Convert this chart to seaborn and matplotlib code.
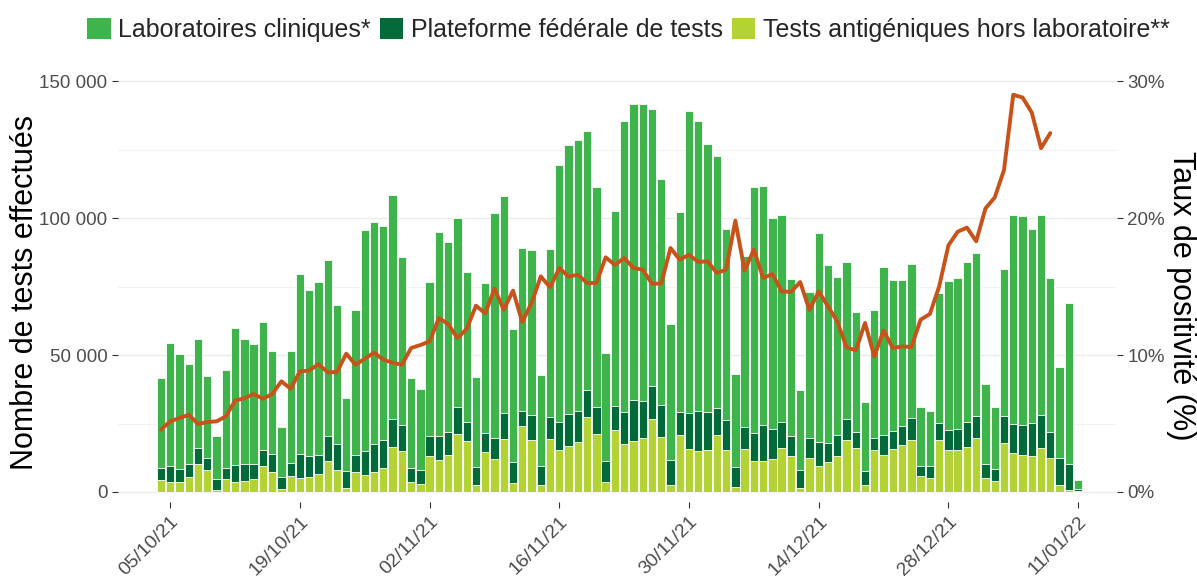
import numpy as np
import pandas as pd
import matplotlib
matplotlib.use("Agg")
import matplotlib.pyplot as plt
from matplotlib.patches import Patch
from matplotlib.ticker import FuncFormatter, MultipleLocator
import seaborn as sns

# ---------------- data ----------------
start_date = "2021-10-04"

# Tests in thousands per day
labs_k = [32.7, 45.1, 42.0, 36.4, 39.8, 30.2, 15.7, 35.7, 49.7, 45.4,
          43.8, 46.7, 37.6, 18.1, 40.9, 65.7, 60.6, 63.3, 64.2, 50.8,
          26.6, 52.9, 80.7, 81.1, 78.3, 81.8, 61.4, 32.9, 29.3, 56.5,
          74.6, 69.4, 69.2, 54.8, 33.0, 54.9, 82.2, 78.9, 48.7, 59.5,
          60.4, 33.0, 61.3, 93.6, 98.2, 98.9, 94.6, 80.2, 39.4, 71.3,
          106.3, 108.3, 108.6, 101.1, 82.6, 49.6, 72.9, 110.5, 105.8, 97.9,
          91.9, 69.5, 33.8, 62.2, 89.9, 87.5, 76.9, 75.6, 57.2, 29.3,
          53.3, 76.3, 65.0, 57.9, 57.2, 43.8, 25.2, 46.6, 61.2, 55.0,
          53.2, 56.1, 21.5, 20.3, 47.5, 54.5, 55.2, 58.2, 59.6, 29.2,
          22.4, 53.7, 76.4, 76.6, 71.0, 73.0, 56.1, 33.4, 58.7, 3.3]

platform_k = [4.5, 5.9, 4.6, 4.8, 5.9, 4.4, 3.7, 4.2, 6.2, 6.4,
              5.4, 6.0, 6.3, 4.4, 5.0, 8.8, 7.7, 7.1, 9.2, 9.2,
              6.3, 6.4, 8.8, 10.2, 10.1, 10.3, 9.5, 4.8, 5.3, 7.3,
              8.7, 8.2, 9.6, 6.9, 6.4, 6.9, 7.7, 9.5, 7.6, 5.7,
              8.9, 6.9, 8.2, 10.2, 11.5, 11.3, 9.8, 9.7, 7.4, 8.7,
              11.7, 14.8, 13.3, 12.1, 11.5, 9.2, 8.3, 13.1, 14.8, 13.9,
              10.0, 11.1, 7.3, 8.2, 10.2, 13.0, 10.8, 9.3, 7.4, 6.4,
              7.3, 8.7, 7.0, 7.6, 7.6, 5.9, 4.9, 4.5, 7.3, 6.6,
              6.8, 8.0, 3.9, 4.3, 6.1, 7.3, 7.5, 9.4, 8.0, 5.0,
              4.5, 9.6, 10.7, 10.9, 12.0, 12.1, 9.6, 9.6, 9.6, 0.9]

antigen_k = [4.3, 3.5, 3.8, 5.5, 10.3, 7.9, 0.9, 4.7, 3.8, 3.9,
             4.7, 9.5, 7.4, 1.2, 5.7, 5.1, 5.4, 6.4, 11.4, 8.2,
             1.5, 7.2, 6.2, 7.2, 8.8, 16.3, 15.0, 3.8, 2.9, 13.0,
             11.6, 13.6, 21.3, 18.5, 2.6, 14.6, 12.0, 19.5, 3.3, 24.0,
             19.1, 2.7, 19.2, 15.5, 16.8, 18.4, 27.5, 21.3, 3.8, 22.6,
             17.5, 18.7, 19.8, 26.5, 20.1, 2.6, 20.9, 15.6, 14.8, 15.2,
             20.8, 15.3, 1.8, 15.6, 11.2, 11.3, 12.2, 16.1, 13.0, 1.5,
             12.3, 9.4, 10.8, 13.1, 19.0, 15.9, 2.6, 15.3, 13.5, 15.7,
             17.3, 19.1, 5.7, 5.1, 19.0, 15.2, 15.5, 16.3, 19.6, 5.2,
             4.0, 18.0, 14.1, 13.4, 13.1, 15.9, 12.4, 2.7, 0.6, 0.2]

# Positivity rate (%), available up to 08/01/22
positivity = [4.55, 5.16, 5.40, 5.64, 4.96, 5.11, 5.16, 5.52, 6.67, 6.84,
              7.15, 6.81, 7.15, 8.08, 7.54, 8.81, 8.86, 9.34, 8.73, 8.76,
              10.10, 9.29, 9.73, 10.17, 9.66, 9.44, 9.29, 10.51, 10.73, 11.00,
              12.70, 12.26, 11.24, 11.90, 13.60, 13.04, 14.84, 13.31, 14.70, 12.41,
              13.80, 15.74, 14.94, 16.35, 15.72, 15.86, 15.26, 15.26, 17.13, 16.58,
              17.08, 16.35, 16.23, 15.21, 15.21, 17.81, 16.96, 17.32, 16.79, 16.84,
              15.99, 16.23, 19.81, 16.16, 17.69, 15.62, 15.91, 14.65, 14.60, 15.33,
              13.28, 14.65, 13.55, 12.46, 10.56, 10.34, 12.34, 9.90, 11.78, 10.51,
              10.63, 10.58, 12.58, 12.99, 15.00, 18.00, 19.00, 19.30, 18.30, 20.70,
              21.50, 23.50, 29.00, 28.80, 27.70, 25.10, 26.20]

tick_labels = ["05/10/21", "19/10/21", "02/11/21", "16/11/21",
               "30/11/21", "14/12/21", "28/12/21", "11/01/22"]

series_names = ["Laboratoires cliniques*", "Plateforme fédérale de tests",
                "Tests antigéniques hors laboratoire**"]
colors = ["#3DB54A", "#006B38", "#B3D334"]
line_color = "#C9521B"

# ---------------- prepare ----------------
dates = pd.date_range(start_date, periods=len(labs_k), freq="D")
date_str = [d.strftime("%d/%m/%y") for d in dates]
labs = np.array(labs_k) * 1000
platform = np.array(platform_k) * 1000
antigen = np.array(antigen_k) * 1000

df = pd.DataFrame({
    "date": date_str,
    "top": antigen + platform + labs,
    "mid": antigen + platform,
    "low": antigen,
})

sns.set_theme(style="white")
plt.rcParams["font.family"] = ["Liberation Sans", "DejaVu Sans"]

W, H = 1197, 587
fig = plt.figure(figsize=(W / 100, H / 100), dpi=100)
ax = fig.add_axes([118 / W, (H - 502) / H, 999 / W, 430 / H])

bar_kw = dict(ax=ax, width=0.9, saturation=1, errorbar=None,
              edgecolor="white", linewidth=0.6, order=date_str)
sns.barplot(data=df, x="date", y="top", color=colors[0], **bar_kw)
sns.barplot(data=df, x="date", y="mid", color=colors[1], **bar_kw)
sns.barplot(data=df, x="date", y="low", color=colors[2], **bar_kw)

ymin, ymax = -3650, 153300
ax.set_ylim(ymin, ymax)
ax.set_xlim(-4.64, 103.2)
ax.yaxis.set_major_locator(MultipleLocator(50000))
ax.yaxis.set_minor_locator(MultipleLocator(25000))
ax.yaxis.set_major_formatter(FuncFormatter(lambda v, p: f"{int(round(v)):,}".replace(",", " ")))
ax.grid(False)
ax.grid(axis="y", which="major", color="#EBEBEB", linewidth=1.0)
ax.grid(axis="y", which="minor", color="#F3F3F3", linewidth=0.8)
ax.set_axisbelow(True)

tick_pos = [date_str.index(t) for t in tick_labels]
ax.set_xticks(tick_pos)
ax.set_xticklabels(tick_labels, rotation=45, ha="right", va="top",
                   rotation_mode="anchor")
ax.tick_params(axis="x", which="major", length=4, width=0.8, color="#333333",
               labelsize=14, labelcolor="#4D4D4D", pad=4, bottom=True)
ax.tick_params(axis="y", which="major", length=4, width=0.8, color="#333333",
               labelsize=13.5, labelcolor="#4D4D4D", left=True)
ax.tick_params(axis="y", which="minor", length=0)
ax.set_xlabel("")
ax.set_ylabel("")
for s in ax.spines.values():
    s.set_visible(False)

ax2 = ax.twinx()
sns.lineplot(x=np.arange(len(positivity)), y=positivity, ax=ax2,
             color=line_color, linewidth=2.8)
ax2.set_ylim(ymin * 30 / 150000, ymax * 30 / 150000)
ax2.set_xlim(ax.get_xlim())
ax2.set_yticks([0, 10, 20, 30])
ax2.yaxis.set_major_formatter(FuncFormatter(lambda v, p: f"{int(round(v))}%"))
ax2.tick_params(axis="y", length=4, width=0.8, color="#333333",
                labelsize=13.5, labelcolor="#4D4D4D", right=True)
ax2.grid(False)
ax2.set_ylabel("")
for s in ax2.spines.values():
    s.set_visible(False)

fig.text(25 / W, (H - 292) / H, "Nombre de tests effectués", fontsize=22,
         color="black", rotation=90, ha="center", va="center")
fig.text(1181 / W, (H - 296) / H, "Taux de positivité (%)", fontsize=22,
         color="black", rotation=-90, ha="center", va="center")

handles = [Patch(facecolor=c, edgecolor="none") for c in colors]
fig.legend(handles, series_names, loc="upper center", bbox_to_anchor=(0.525, 1.0),
           ncol=3, frameon=False, fontsize=18, handlelength=0.95, handleheight=0.95,
           handletextpad=0.3, columnspacing=0.35, borderaxespad=0.3)

fig.savefig("out.png", dpi=100, facecolor="white")
